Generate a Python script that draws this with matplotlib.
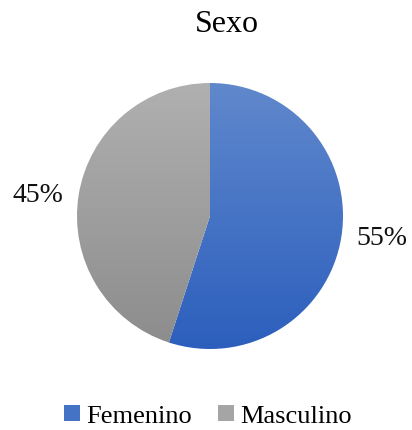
import numpy as np
import matplotlib
matplotlib.use("Agg")
import matplotlib.pyplot as plt
from matplotlib.colors import LinearSegmentedColormap
from matplotlib.patches import Patch

plt.rcParams["font.family"] = ["Liberation Serif", "DejaVu Serif"]

categories = ["Femenino", "Masculino"]
values = [55, 45]
top_colors = ["#6088CC", "#B0B0B0"]
bottom_colors = ["#2C5FBD", "#8C8C8C"]
legend_colors = ["#4472C4", "#A5A5A5"]

fig = plt.figure(figsize=(4.12, 4.31), dpi=100)
ax = fig.add_axes([77 / 412, 81 / 431, 266 / 412, 266 / 431])

wedges, texts, autotexts = ax.pie(
    values, startangle=90, counterclock=False, radius=1,
    autopct="%1.0f%%", pctdistance=1.31,
    textprops={"fontsize": 20, "color": "#111111"},
    wedgeprops={"linewidth": 0},
)
ax.set_xlim(-1, 1)
ax.set_ylim(-1, 1)
ax.set_aspect("equal")
ax.axis("off")

# pull the percentage labels a little toward the horizontal
for t in autotexts:
    x, y = t.get_position()
    t.set_position((x, y * 0.8))

# vertical gradient fill inside each slice
grad = np.linspace(1, 0, 256).reshape(-1, 1)
for w, c_top, c_bot in zip(wedges, top_colors, bottom_colors):
    w.set_facecolor("none")
    cmap = LinearSegmentedColormap.from_list("g", [c_bot, c_top])
    im = ax.imshow(grad, cmap=cmap, extent=[-1, 1, -1, 1], aspect="auto",
                   origin="upper", zorder=0.5)
    im.set_clip_path(w)

fig.text(227 / 412, 1 - 24 / 431, "Sexo", ha="center", va="center", fontsize=23)

handles = [Patch(facecolor=c, edgecolor="none") for c in legend_colors]
fig.legend(handles, categories, loc="center", bbox_to_anchor=(208 / 412, 1 - 417 / 431),
           ncol=2, frameon=False, fontsize=19, handlelength=0.6, handleheight=0.6,
           handletextpad=0.25, columnspacing=1.0, borderpad=0)

fig.savefig("out.png", dpi=100)
